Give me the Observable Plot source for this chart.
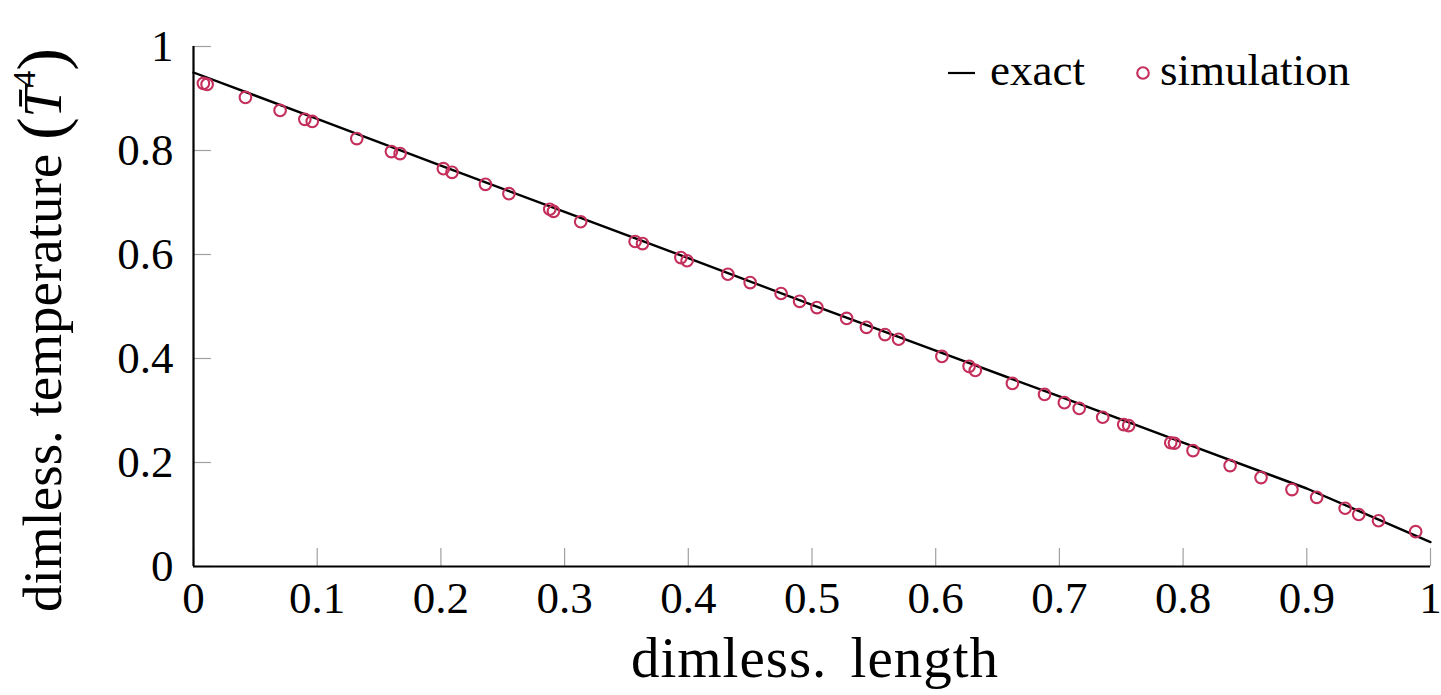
<!DOCTYPE html>
<html><head><meta charset="utf-8">
<script src="https://cdn.jsdelivr.net/npm/d3@7"></script>
<script src="https://cdn.jsdelivr.net/npm/@observablehq/plot@0.6"></script>
<style>html,body{margin:0;padding:0;background:#fff} svg{display:block}</style>
</head><body><div id="chart"></div>
<script>
// simulation points
const simX = [0.008,0.011,0.042,0.070,0.090,0.096,0.132,0.160,0.167,0.202,0.209,0.236,0.255,0.288,0.291,0.313,0.357,0.363,0.394,0.399,0.432,0.450,0.475,0.490,0.504,0.528,0.544,0.559,0.570,0.605,0.627,0.632,0.662,0.688,0.704,0.716,0.735,0.752,0.756,0.790,0.793,0.808,0.838,0.863,0.888,0.908,0.931,0.942,0.958,0.988];
const simY = [0.929,0.927,0.902,0.877,0.860,0.856,0.823,0.798,0.794,0.765,0.758,0.735,0.717,0.687,0.683,0.663,0.625,0.621,0.594,0.588,0.562,0.546,0.525,0.510,0.498,0.477,0.460,0.446,0.437,0.404,0.385,0.377,0.352,0.331,0.315,0.304,0.287,0.273,0.271,0.238,0.237,0.223,0.194,0.171,0.148,0.133,0.112,0.100,0.088,0.067];
// exact solution
const exactX = [0,0.1,0.2,0.3,0.4,0.5,0.6,0.7,0.8,0.9,1];
const exactY = [0.950,0.861,0.771,0.682,0.593,0.503,0.415,0.327,0.238,0.150,0.047];
// ticks
const xTicks = [0,0.1,0.2,0.3,0.4,0.5,0.6,0.7,0.8,0.9,1];
const xTickLabels = ["0","0.1","0.2","0.3","0.4","0.5","0.6","0.7","0.8","0.9","1"];
const yTicks = [0,0.2,0.4,0.6,0.8,1];
const yTickLabels = ["0","0.2","0.4","0.6","0.8","1"];
const xLabel = "dimless. length";
const yLabelMain = "dimless. temperature";
const legendLabels = ["exact","simulation"];

const simColor = "#c42f5b";
const sim = simX.map((x,i)=>({x, y: simY[i]}));
const exact = exactX.map((x,i)=>({x, y: exactY[i]}));

const plot = Plot.plot({
  width: 1441, height: 695,
  marginLeft: 193, marginRight: 11, marginTop: 46, marginBottom: 129,
  style: {fontFamily: "'Liberation Serif', serif", fontSize: "45px", background: "white", color: "black"},
  x: {domain: [0,1]},
  y: {domain: [0,1]},
  marks: [
    Plot.axisX({ticks: xTicks, tickFormat: d => xTickLabels[xTicks.indexOf(d)], tickSize: 0, tickPadding: 15, label: null, fontSize: 45}),
    Plot.axisY({ticks: yTicks, tickFormat: d => yTickLabels[yTicks.indexOf(d)], tickSize: 0, tickPadding: 20, label: null, fontSize: 45}),
    Plot.ruleX(xTicks, {y1: 0, y2: 0, insetTop: -18, stroke: "#a0a0a0", strokeWidth: 1.2}),
    Plot.ruleY(yTicks, {x1: 0, x2: 0, insetRight: -18, stroke: "#a0a0a0", strokeWidth: 1.2}),
    Plot.ruleY([0], {stroke: "black", strokeWidth: 2.2}),
    Plot.ruleX([0], {stroke: "black", strokeWidth: 2.2}),
    Plot.line(exact, {x: "x", y: "y", stroke: "black", strokeWidth: 2.4}),
    Plot.dot(sim, {x: "x", y: "y", r: 5.8, stroke: simColor, strokeWidth: 2.1, fill: "none"})
  ]
});

const svg = d3.select(plot);
const ff = "'Liberation Serif', serif";
// x label
svg.append("text").attr("x", 815).attr("y", 677).attr("text-anchor", "middle")
  .attr("font-family", ff).attr("font-size", 57).attr("letter-spacing", 1).attr("word-spacing", 8)
  .attr("fill", "black").text(xLabel);
// y label
const yl = svg.append("text").attr("transform", "translate(61,612) rotate(-90)")
  .attr("text-anchor", "start").attr("font-family", ff).attr("font-size", 55).attr("fill", "black");
yl.append("tspan").text(yLabelMain + " ");
yl.append("tspan").attr("font-size", 68).attr("dy", 3).text("(");
yl.append("tspan").attr("font-style", "italic").attr("dy", -3).text("T\u0304");
yl.append("tspan").attr("font-size", 32).attr("dy", -26).text("4");
yl.append("tspan").attr("font-size", 68).attr("dy", 29).text(")");
// legend
const lg = svg.append("g").attr("font-family", ff).attr("font-size", 45).attr("fill", "black").attr("text-anchor", "start");
lg.append("line").attr("x1", 948).attr("x2", 975).attr("y1", 73).attr("y2", 73).attr("stroke", "black").attr("stroke-width", 2.2);
lg.append("text").attr("x", 990).attr("y", 85).attr("text-anchor", "start").text(legendLabels[0]);
lg.append("circle").attr("cx", 1143).attr("cy", 73).attr("r", 5.8).attr("fill", "none").attr("stroke", simColor).attr("stroke-width", 2.1);
lg.append("text").attr("x", 1160).attr("y", 85).attr("text-anchor", "start").text(legendLabels[1]);

document.getElementById("chart").appendChild(plot);
</script>
</body></html>
